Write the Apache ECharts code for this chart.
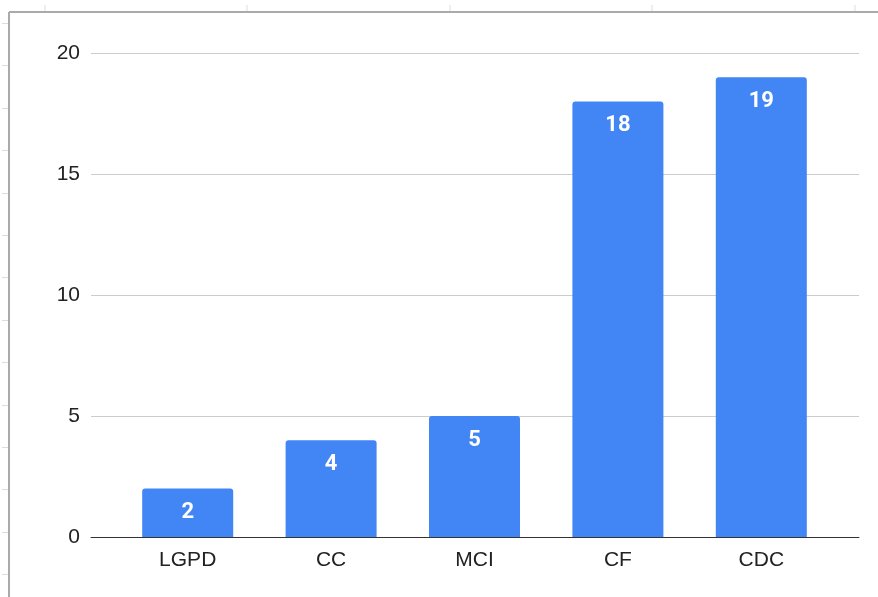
<!DOCTYPE html>
<html>
<head>
<meta charset="utf-8">
<script src="https://cdn.jsdelivr.net/npm/echarts@6/dist/echarts.min.js"></script>
<style>
  html, body { margin: 0; padding: 0; background: #fff; }
  #chart { width: 878px; height: 597px; }
</style>
</head>
<body>
<div id="chart"></div>
<script>
// Categories and counts shown on the bars
const categories = ['LGPD', 'CC', 'MCI', 'CF', 'CDC'];
const counts = [2, 4, 5, 18, 19];
// Value axis range
const yMin = 0;
const yMax = 20;
const yStep = 5;

const chart = echarts.init(document.getElementById('chart'), null, { renderer: 'canvas' });

// Sheet-style frame with small grid ticks along the top and left edges
const frame = [];
frame.push({ type: 'line', shape: { x1: 9, y1: 12, x2: 878, y2: 12 }, style: { stroke: '#aaaaaa', lineWidth: 2 }, z: 10 });
frame.push({ type: 'line', shape: { x1: 9, y1: 12, x2: 9, y2: 597 }, style: { stroke: '#aaaaaa', lineWidth: 2 }, z: 10 });
[45, 247, 450, 652, 855].forEach(function (x) {
  frame.push({ type: 'line', shape: { x1: x, y1: 5, x2: x, y2: 11 }, style: { stroke: '#dddddd', lineWidth: 1 }, z: 10 });
});
for (let y = 23; y < 597; y += 42.4) {
  frame.push({ type: 'line', shape: { x1: 2, y1: Math.round(y) + 0.5, x2: 8, y2: Math.round(y) + 0.5 }, style: { stroke: '#dddddd', lineWidth: 1 }, z: 10 });
}

const font = '"Liberation Sans", Arial, sans-serif';

chart.setOption({
  animation: false,
  backgroundColor: '#ffffff',
  graphic: frame,
  grid: [
    { left: 91, right: 19, top: 53, bottom: 60 },
    { left: 116, right: 45, top: 53, bottom: 60 }
  ],
  xAxis: [
    {
      gridIndex: 0, type: 'category', data: [''],
      axisLine: { show: true, lineStyle: { color: '#333333', width: 1 } },
      axisTick: { show: false }, axisLabel: { show: false }, splitLine: { show: false }
    },
    {
      gridIndex: 1, type: 'category', data: categories,
      axisLine: { show: false }, axisTick: { show: false },
      axisLabel: { color: '#222222', fontSize: 21, fontFamily: font, margin: 13 }
    }
  ],
  yAxis: [
    {
      gridIndex: 0, type: 'value', min: yMin, max: yMax, interval: yStep,
      axisLine: { show: false }, axisTick: { show: false },
      axisLabel: { color: '#222222', fontSize: 21, fontFamily: font, margin: 11 },
      splitLine: { lineStyle: { color: '#cccccc', width: 1 } }
    },
    {
      gridIndex: 1, type: 'value', min: yMin, max: yMax, interval: yStep,
      show: false
    }
  ],
  series: [
    {
      type: 'bar',
      xAxisIndex: 1, yAxisIndex: 1,
      data: counts,
      barWidth: 91,
      itemStyle: { color: '#4285f4', borderRadius: [3, 3, 0, 0] },
      label: {
        show: true, position: 'insideTop', distance: 13,
        color: '#ffffff', fontSize: 22, fontWeight: 'bold', fontFamily: 'Roboto, ' + font
      },
      z: 3
    }
  ]
});
</script>
</body>
</html>
